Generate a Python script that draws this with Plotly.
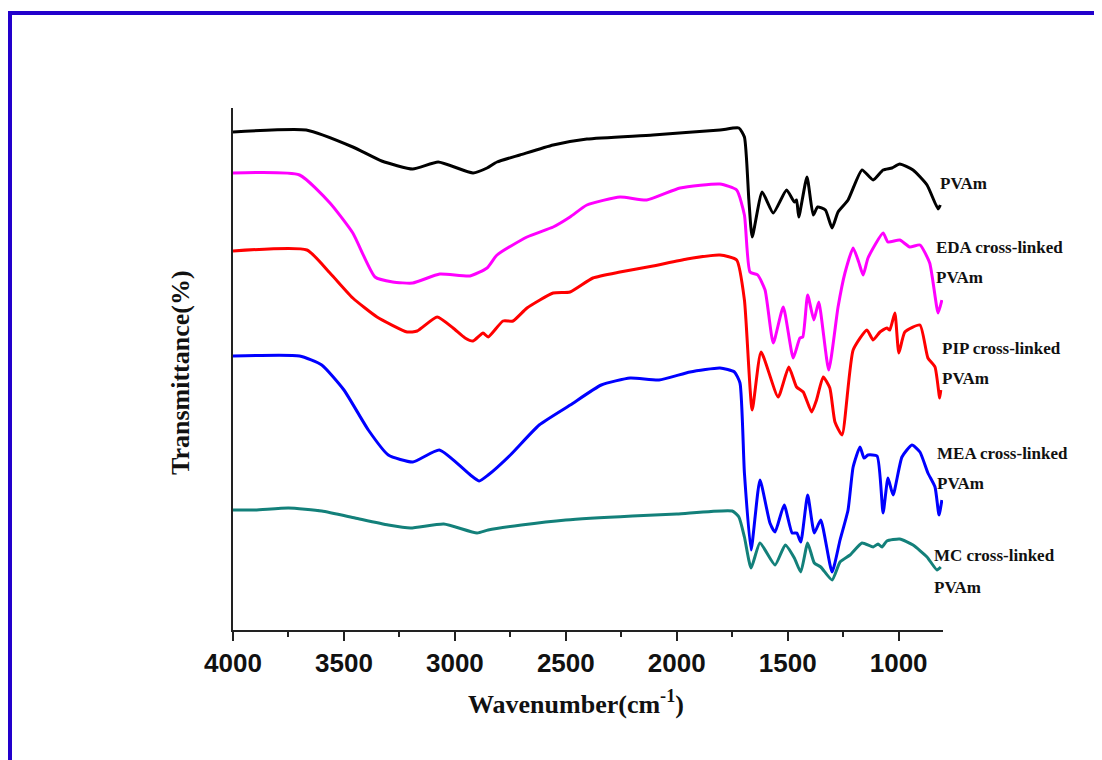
import plotly.graph_objects as go

# ---------------- data (wavenumber cm-1, relative transmittance) ----------------
pvam_x = [4000, 3670, 3460, 3330, 3190, 3075, 2918, 2855, 2810, 2707, 2557, 2405, 2107, 1805, 1720, 1695, 1675,
          1660, 1615, 1565, 1505, 1470, 1460, 1450, 1413, 1385, 1365, 1330, 1300, 1273, 1228, 1165, 1115, 1070,
          1030, 995, 935, 872, 822, 812]
pvam_y = [99.6, 100.0, 96.6, 93.8, 92.2, 93.6, 91.4, 92.4, 93.6, 95.0, 97.0, 98.2, 99.0, 100.0, 100.4, 98.6, 86.0,
          78.6, 87.6, 83.4, 88.0, 85.6, 86.0, 82.6, 90.6, 83.0, 84.6, 84.0, 80.4, 83.6, 86.0, 92.0, 90.0, 92.0,
          92.4, 93.2, 92.0, 89.0, 84.2, 85.0]

eda_x = [4000, 3700, 3563, 3460, 3360, 3280, 3190, 3068, 2932, 2855, 2810, 2675, 2557, 2481, 2405, 2256, 2135,
         1985, 1805, 1730, 1695, 1670, 1635, 1602, 1565, 1520, 1475, 1445, 1432, 1410, 1382, 1360, 1315, 1273,
         1242, 1205, 1180, 1160, 1138, 1070, 1048, 995, 950, 904, 860, 822, 805]
eda_y = [91.4, 91.0, 85.4, 79.4, 70.6, 69.6, 69.4, 71.2, 70.8, 72.4, 75.0, 78.6, 80.6, 82.6, 85.0, 86.6, 86.0,
         88.4, 89.2, 88.0, 83.0, 71.6, 71.0, 68.0, 57.4, 64.6, 54.4, 58.4, 58.6, 67.0, 62.0, 65.6, 52.0, 64.6,
         71.4, 76.4, 73.6, 71.0, 74.4, 79.4, 77.6, 78.0, 76.6, 77.0, 73.4, 63.4, 66.0]

pip_x = [4000, 3667, 3563, 3460, 3351, 3215, 3170, 3080, 3008, 2954, 2918, 2873, 2850, 2783, 2738, 2675, 2557,
         2481, 2378, 2256, 2107, 1954, 1805, 1730, 1695, 1660, 1620, 1543, 1495, 1460, 1430, 1392, 1370, 1340,
         1310, 1287, 1255, 1205, 1143, 1115, 1084, 1053, 1040, 1017, 999, 972, 904, 868, 836, 815, 810]
pip_y = [75.8, 76.0, 71.4, 66.4, 62.6, 59.6, 59.8, 62.6, 60.4, 58.4, 57.8, 59.4, 58.6, 61.8, 61.8, 64.4, 67.4,
         67.6, 70.4, 71.6, 72.8, 74.2, 75.0, 74.0, 66.0, 44.0, 55.6, 46.6, 52.6, 48.6, 47.6, 43.6, 46.0, 50.6,
         48.4, 41.6, 39.0, 56.0, 60.0, 58.0, 59.6, 60.4, 60.0, 63.4, 55.4, 59.6, 61.0, 54.4, 52.6, 46.4, 48.0]

mea_x = [4000, 3700, 3600, 3500, 3390, 3300, 3190, 3070, 2930, 2890, 2850, 2750, 2620, 2480, 2340, 2210, 2080,
         1940, 1805, 1740, 1715, 1695, 1665, 1625, 1580, 1557, 1516, 1480, 1459, 1441, 1410, 1380, 1351, 1300,
         1264, 1228, 1205, 1174, 1156, 1138, 1097, 1070, 1048, 1025, 985, 940, 904, 868, 836, 818, 805]
mea_y = [54.8, 54.8, 53.0, 48.0, 40.0, 35.0, 33.6, 36.0, 31.0, 29.8, 31.0, 35.0, 41.0, 45.0, 49.0, 50.4, 50.0,
         51.6, 52.4, 51.6, 49.4, 31.4, 16.0, 30.0, 21.4, 19.6, 25.0, 19.4, 19.4, 17.6, 27.0, 19.4, 22.0, 11.6,
         18.0, 24.0, 32.6, 36.6, 34.4, 35.0, 34.8, 23.4, 30.4, 27.0, 34.6, 37.0, 35.6, 31.4, 28.6, 23.0, 26.0]

mc_x = [4000, 3900, 3750, 3600, 3450, 3300, 3200, 3050, 2900, 2850, 2700, 2500, 2200, 2000, 1750, 1720, 1695,
        1665, 1625, 1557, 1511, 1470, 1441, 1410, 1380, 1351, 1300, 1264, 1219, 1165, 1115, 1093, 1075, 1053,
        995, 935, 872, 827, 810]
mc_y = [24.0, 24.0, 24.4, 23.8, 22.4, 21.0, 20.4, 21.2, 19.4, 20.0, 21.0, 22.0, 22.8, 23.2, 23.8, 22.6, 18.6,
        12.4, 17.4, 13.0, 17.0, 14.4, 11.6, 17.4, 13.4, 12.6, 10.0, 13.6, 15.0, 17.4, 16.6, 17.2, 16.6, 17.8,
        18.2, 17.0, 14.6, 12.0, 12.6]

x_ticks = [4000, 3500, 3000, 2500, 2000, 1500, 1000]
x_tick_labels = ["4000", "3500", "3000", "2500", "2000", "1500", "1000"]

series = [
    ("PVAm", pvam_x, pvam_y, "#000000"),
    ("EDA cross-linked PVAm", eda_x, eda_y, "#FF00FF"),
    ("PIP cross-linked PVAm", pip_x, pip_y, "#FF0000"),
    ("MEA cross-linked PVAm", mea_x, mea_y, "#0000FF"),
    ("MC cross-linked PVAm", mc_x, mc_y, "#13807A"),
]

# curve labels (two lines each) shown at right, positions in screen pixels
label_lines = [
    [("PVAm", 938, 183)],
    [("EDA cross-linked", 934, 247), ("PVAm", 934, 277)],
    [("PIP cross-linked", 940, 348), ("PVAm", 940, 379)],
    [("MEA cross-linked", 935, 453), ("PVAm", 935, 483)],
    [("MC cross-linked", 932, 555), ("PVAm", 932, 587)],
]

W, H = 1102, 760
OFF = 8  # page body margin
# plot area in screen pixels: x 233..943, y 108..630
SX0, SX1, SY0, SY1 = 233, 943, 108, 630
L = SX0 - OFF
R = W - (SX1 - OFF)
T = SY0 - OFF
B = H - (SY1 - OFF)
PW, PH = SX1 - SX0, SY1 - SY0


def px(xp):
    return (xp - SX0) / PW


def py(yp):
    return (SY1 - yp) / PH


fig = go.Figure()
for name, xs, ys, col in series:
    fig.add_trace(go.Scatter(x=xs, y=ys, mode="lines", name=name,
                             line=dict(color=col, width=3, shape="spline", smoothing=0.5),
                             showlegend=False))

serif = "Liberation Serif, Times New Roman, serif"
ann = []
for group in label_lines:
    for txt, xp, yp in group:
        ann.append(dict(text="<b>%s</b>" % txt, x=px(xp), y=py(yp), xref="paper", yref="paper",
                        xanchor="left", yanchor="middle", showarrow=False,
                        font=dict(family=serif, size=17, color="#111111")))

ann.append(dict(text="<b>Wavenumber(cm<sup>-1</sup>)</b>", x=px(576), y=py(702), xref="paper", yref="paper",
                xanchor="center", yanchor="middle", showarrow=False,
                font=dict(family=serif, size=26, color="#111111")))
ann.append(dict(text="<b>Transmittance(%)</b>", x=px(180), y=py(373), xref="paper", yref="paper",
                xanchor="center", yanchor="middle", showarrow=False, textangle=-90,
                font=dict(family=serif, size=26, color="#111111")))

fig.update_layout(
    width=W, height=H,
    margin=dict(l=L, r=R, t=T, b=B),
    paper_bgcolor="white", plot_bgcolor="white",
    annotations=ann,
    shapes=[dict(type="rect", xref="paper", yref="paper",
                 x0=px(10), x1=px(1400), y0=py(1100), y1=py(13),
                 line=dict(color="#2200CC", width=4))],
    xaxis=dict(range=[4000, 800], showgrid=False, zeroline=False,
               showline=True, linecolor="#222222", linewidth=2,
               tickmode="array", tickvals=x_ticks, ticktext=x_tick_labels,
               ticks="outside", ticklen=9, tickwidth=2, tickcolor="#222222",
               tickfont=dict(family="Liberation Sans, Arial, sans-serif", size=26, color="#111111",
                             weight="bold"),
               minor=dict(tickmode="array", tickvals=[3750, 3250, 2750, 2250, 1750, 1250, 750],
                          ticks="outside", ticklen=5, tickwidth=2, tickcolor="#222222", showgrid=False)),
    yaxis=dict(range=[0, 104.4], showgrid=False, zeroline=False,
               showline=True, linecolor="#222222", linewidth=2,
               ticks="", showticklabels=False),
)

fig.write_html("out.html")
